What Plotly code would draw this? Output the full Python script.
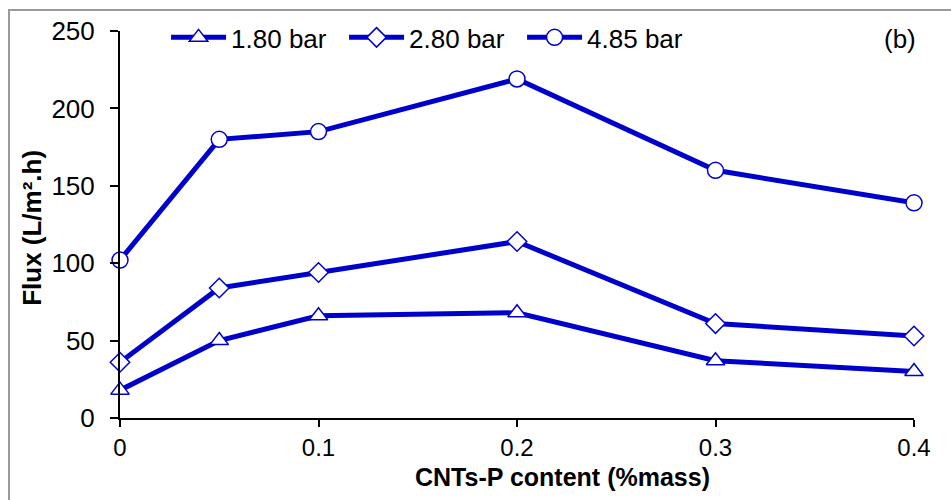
import plotly.graph_objects as go

x_vals = [0, 0.05, 0.1, 0.2, 0.3, 0.4]
flux_180 = [18, 50, 66, 68, 37, 30]
flux_280 = [36, 84, 94, 114, 61, 53]
flux_485 = [102, 180, 185, 219, 160, 139]
names = ["1.80 bar", "2.80 bar", "4.85 bar"]
x_ticks = [0, 0.1, 0.2, 0.3, 0.4]
x_ticktext = ["0", "0.1", "0.2", "0.3", "0.4"]
y_ticks = [0, 50, 100, 150, 200, 250]

BLUE = "#0000CC"
FONT = "Liberation Sans, Arial, sans-serif"
fig = go.Figure()
for name, ys, sym, sz in zip(names, [flux_180, flux_280, flux_485],
                             ["triangle-up", "diamond", "circle"], [16, 15, 16]):
    fig.add_trace(go.Scatter(
        x=x_vals, y=ys, name=name, mode="lines+markers",
        line=dict(color=BLUE, width=5),
        marker=dict(symbol=sym, size=sz, color="white", line=dict(color=BLUE, width=1.5)),
        cliponaxis=False,
    ))

fig.update_layout(
    width=951, height=500,
    margin=dict(l=120, r=37, t=31, b=82),
    paper_bgcolor="white", plot_bgcolor="white",
    font=dict(family=FONT, color="black", size=26),
    showlegend=True,
    legend=dict(orientation="h", x=0.058, xanchor="left", y=1.044, yanchor="top",
                font=dict(size=26), itemwidth=55, entrywidth=108,
                bgcolor="rgba(0,0,0,0)"),
    xaxis=dict(range=[0, 0.4], tickvals=x_ticks, ticktext=x_ticktext,
               showline=True, linecolor="black", linewidth=2, ticks="outside", ticklen=7,
               tickcolor="black", tickwidth=2, showgrid=False, zeroline=False,
               tickfont=dict(size=24), ticklabelstandoff=0),
    yaxis=dict(range=[0, 250], tickvals=y_ticks,
               showline=True, linecolor="black", linewidth=2, ticks="outside", ticklen=8,
               tickcolor="black", tickwidth=2, showgrid=False, zeroline=False,
               tickfont=dict(size=26), ticklabelstandoff=10),
    shapes=[dict(type="rect", xref="paper", yref="paper", x0=-0.1398, x1=1.2, y0=-0.6, y1=1.054,
                 line=dict(color="#999999", width=2), fillcolor="rgba(0,0,0,0)", layer="below")],
    annotations=[
        dict(text="(b)", xref="paper", yref="paper", x=1.005, y=0.979, xanchor="right",
             yanchor="middle", showarrow=False, font=dict(size=26)),
        dict(text="<b>CNTs-P content (%mass)</b>", xref="paper", yref="paper", x=0.557, y=-0.1525,
             xanchor="center", yanchor="middle", showarrow=False, font=dict(size=25)),
        dict(text="<b>Flux (L/m².h)</b>", xref="paper", yref="paper", x=-0.111, y=0.491,
             xanchor="center", yanchor="middle", textangle=-90, showarrow=False, font=dict(size=26)),
    ],
)

fig.write_html("out.html")
